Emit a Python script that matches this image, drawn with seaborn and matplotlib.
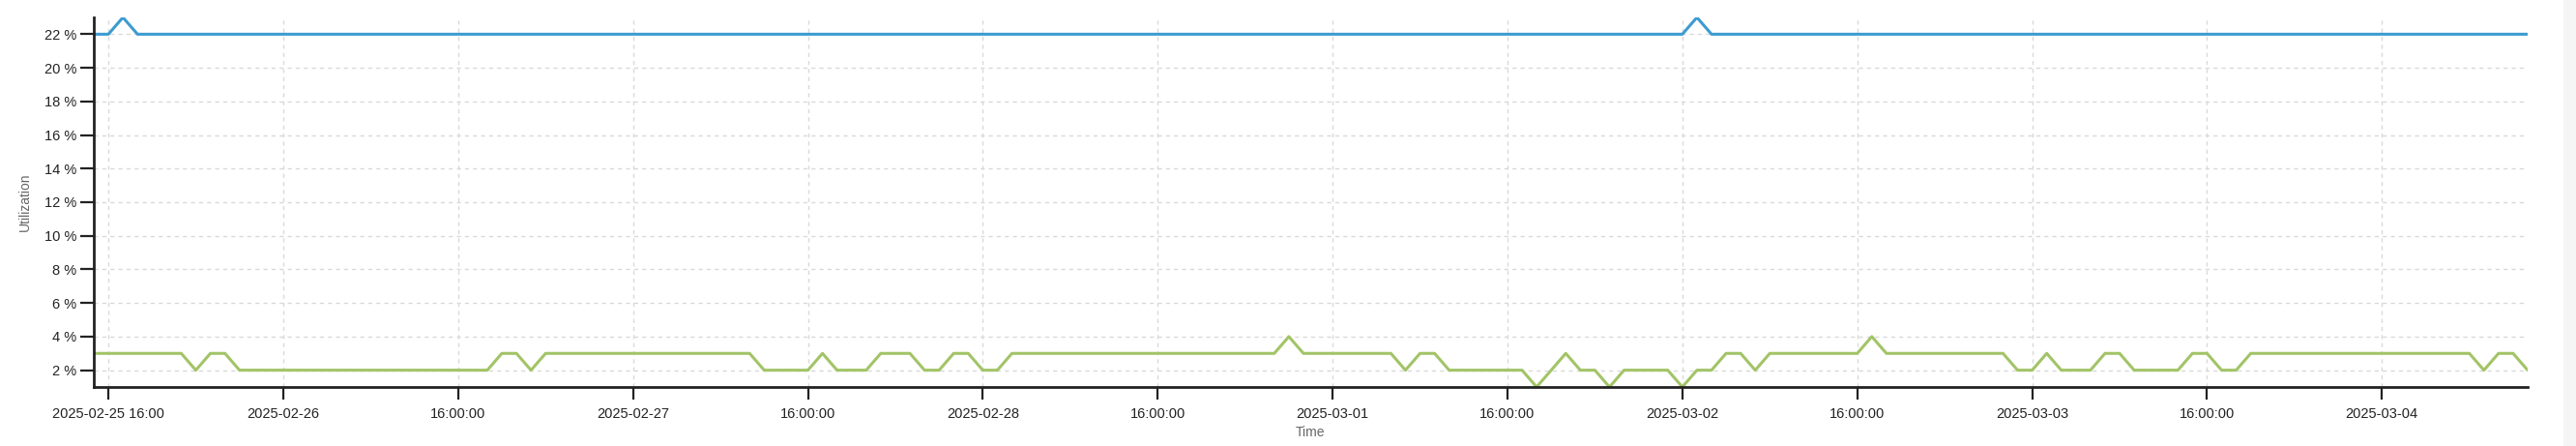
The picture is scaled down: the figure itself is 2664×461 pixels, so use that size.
import matplotlib
matplotlib.use("Agg")
import matplotlib.pyplot as plt
import seaborn as sns
import pandas as pd

# hourly samples, 2025-02-25 11:00 .. 2025-03-04 18:00
start_time = "2025-02-25 11:00"
n_hours = 168

# utilization in %, one row per 24 hours
util_blue = [
    22, 22, 23, 22, 22, 22, 22, 22, 22, 22, 22, 22, 22, 22, 22, 22, 22, 22, 22, 22, 22, 22, 22, 22,
    22, 22, 22, 22, 22, 22, 22, 22, 22, 22, 22, 22, 22, 22, 22, 22, 22, 22, 22, 22, 22, 22, 22, 22,
    22, 22, 22, 22, 22, 22, 22, 22, 22, 22, 22, 22, 22, 22, 22, 22, 22, 22, 22, 22, 22, 22, 22, 22,
    22, 22, 22, 22, 22, 22, 22, 22, 22, 22, 22, 22, 22, 22, 22, 22, 22, 22, 22, 22, 22, 22, 22, 22,
    22, 22, 22, 22, 22, 22, 22, 22, 22, 22, 22, 22, 22, 22, 23, 22, 22, 22, 22, 22, 22, 22, 22, 22,
    22, 22, 22, 22, 22, 22, 22, 22, 22, 22, 22, 22, 22, 22, 22, 22, 22, 22, 22, 22, 22, 22, 22, 22,
    22, 22, 22, 22, 22, 22, 22, 22, 22, 22, 22, 22, 22, 22, 22, 22, 22, 22, 22, 22, 22, 22, 22, 22,
]
util_green = [
    3, 3, 3, 3, 3, 3, 3, 2, 3, 3, 2, 2, 2, 2, 2, 2, 2, 2, 2, 2, 2, 2, 2, 2,
    2, 2, 2, 2, 3, 3, 2, 3, 3, 3, 3, 3, 3, 3, 3, 3, 3, 3, 3, 3, 3, 3, 2, 2,
    2, 2, 3, 2, 2, 2, 3, 3, 3, 2, 2, 3, 3, 2, 2, 3, 3, 3, 3, 3, 3, 3, 3, 3,
    3, 3, 3, 3, 3, 3, 3, 3, 3, 3, 4, 3, 3, 3, 3, 3, 3, 3, 2, 3, 3, 2, 2, 2,
    2, 2, 2, 1, 2, 3, 2, 2, 1, 2, 2, 2, 2, 1, 2, 2, 3, 3, 2, 3, 3, 3, 3, 3,
    3, 3, 4, 3, 3, 3, 3, 3, 3, 3, 3, 3, 2, 2, 3, 2, 2, 2, 3, 3, 2, 2, 2, 2,
    3, 3, 2, 2, 3, 3, 3, 3, 3, 3, 3, 3, 3, 3, 3, 3, 3, 3, 3, 3, 2, 3, 3, 2,
]

# x ticks every 12 hours, labels as shown by the dashboard
tick_start = "2025-02-25 12:00"
tick_labels = [
    "2025-02-25 16:00", "2025-02-26", "16:00:00", "2025-02-27", "16:00:00",
    "2025-02-28", "16:00:00", "2025-03-01", "16:00:00", "2025-03-02",
    "16:00:00", "2025-03-03", "16:00:00", "2025-03-04",
]
y_ticks = [2, 4, 6, 8, 10, 12, 14, 16, 18, 20, 22]

times = pd.date_range(start_time, periods=n_hours, freq="h")
df = pd.DataFrame({"time": times, "blue": util_blue, "green": util_green})
tick_times = pd.date_range(tick_start, periods=len(tick_labels), freq="12h")

sns.set_style("white")
plt.rcParams["font.family"] = ["Liberation Sans", "DejaVu Sans"]

W, H = 2664, 461
fig = plt.figure(figsize=(W / 100, H / 100), dpi=100)
fig.patch.set_facecolor("white")
ax = fig.add_axes([97 / W, (H - 400) / H, (2614 - 97) / W, (400 - 18) / H])

sns.lineplot(data=df, x="time", y="blue", ax=ax, color="#3d9bd0", linewidth=2.2)
sns.lineplot(data=df, x="time", y="green", ax=ax, color="#a2c467", linewidth=2.2)

ax.set_xlim(times[0], times[-1])
ax.set_ylim(1, 23)

ax.set_xticks(tick_times)
ax.set_xticklabels(tick_labels, fontsize=10.5, color="#222222")
ax.set_yticks(y_ticks)
ax.set_yticklabels([f"{v} %" for v in y_ticks], fontsize=10.5, color="#222222")

ax.grid(True, color="#d9d9d9", linestyle=(0, (3, 3)), linewidth=1.0)
ax.set_axisbelow(True)

for side in ["top", "right"]:
    ax.spines[side].set_visible(False)
for side in ["left", "bottom"]:
    ax.spines[side].set_color("#222222")
    ax.spines[side].set_linewidth(2.0)

# the white style hides ticks, turn them back on
ax.tick_params(axis="x", bottom=True, length=9, width=1.6, color="#222222", pad=6)
ax.tick_params(axis="y", left=True, length=10, width=1.6, color="#222222", pad=3)

ax.set_xlabel("Time", fontsize=10, color="#666666", labelpad=4)
ax.set_ylabel("Utilization", fontsize=10, color="#666666", labelpad=9)

# light scrollbar strip on the right edge
fig.patches.append(plt.Rectangle((2651 / W, 0), 13 / W, 1, transform=fig.transFigure,
                                 facecolor="#f5f5f5", edgecolor="none"))

fig.savefig("out.png", dpi=100)
